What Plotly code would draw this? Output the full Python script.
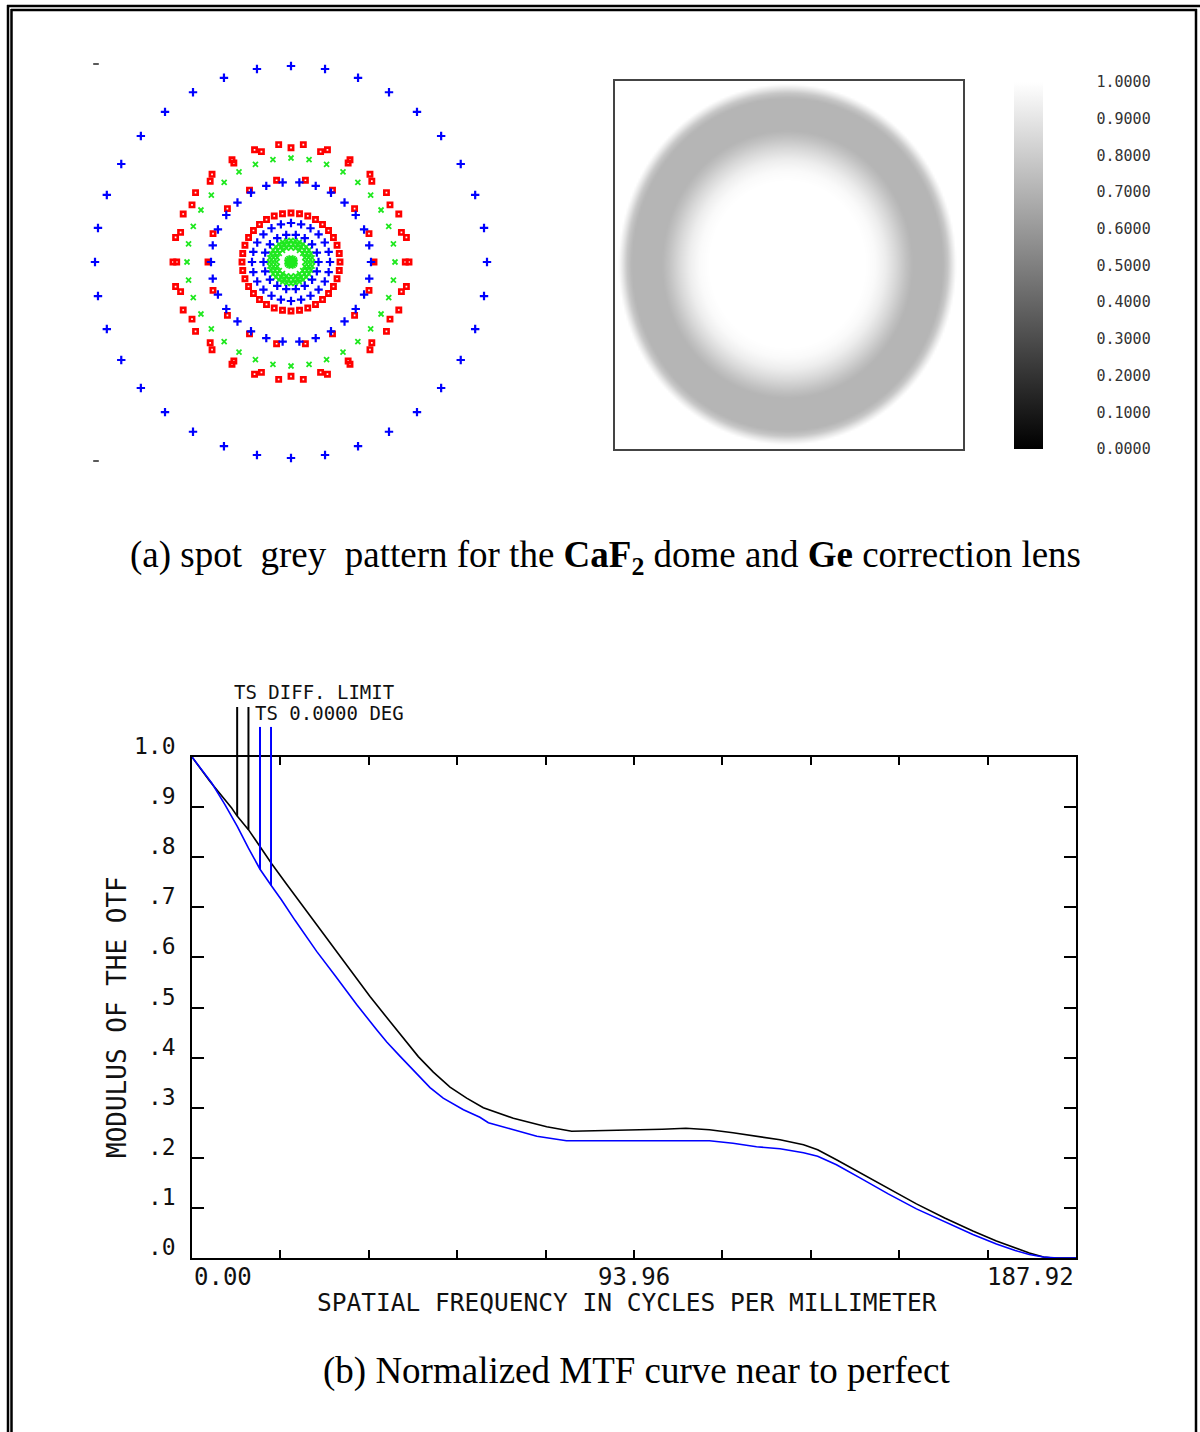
import numpy as np
import plotly.graph_objects as go

W, H = 1200, 1432


def fx(px):
    """Horizontal page pixel -> paper fraction."""
    return px / W


def fy(py):
    """Vertical page pixel (from top) -> paper fraction."""
    return 1 - py / H


# ---------------- (a) spot diagram: ray rings (radius, rays per ring) ----------------
BLUE_RING_RADII = [196.0, 80.0, 39.0, 27.5]
BLUE_RING_COUNTS = [36, 30, 24, 18]
RED_RING_RADII = [118.0, 114.3, 83.0, 49.0]
RED_RING_COUNTS = [30, 24, 18, 36]
GREEN_RING_RADII = [104.0, 21.5, 18.0, 14.5, 4.0, 2.0, 0.0]
GREEN_RING_COUNTS = [36, 32, 26, 20, 12, 6, 1]
CORNER_MARKS_X = [-195.0, -195.0]
CORNER_MARKS_Y = [198.0, -199.0]

# ---------------- (a) grey pattern: radial intensity profile ----------------
GREY_RHO = [0.0, 0.46, 0.52, 0.58, 0.64, 0.70, 0.74, 0.92, 0.95, 0.975, 1.0, 1.5]
GREY_LEVEL = [1.0, 1.0, 0.98, 0.93, 0.85, 0.76, 0.71, 0.71, 0.78, 0.90, 1.0, 1.0]
COLORBAR_TICKS = [0.0, 0.1, 0.2, 0.3, 0.4, 0.5, 0.6, 0.7, 0.8, 0.9, 1.0]
COLORBAR_LABELS = ["0.0000", "0.1000", "0.2000", "0.3000", "0.4000", "0.5000",
                   "0.6000", "0.7000", "0.8000", "0.9000", "1.0000"]

# ---------------- (b) MTF curves ----------------
DIFF_FREQ = [0, 3.83, 8.43, 9.6, 12.0, 16.94, 20.12, 23.31, 26.15, 29.34, 31.46, 34.3,
             37.84, 42.09, 44.22, 48.11, 51.3, 54.85, 58.39, 61.93, 68.31, 75.4, 80.71,
             94.0, 100, 105, 110, 115, 120, 125, 130, 133, 137, 142, 148, 154, 160,
             166, 171, 175, 178, 181, 183, 187.92]
DIFF_MTF = [1.0, 0.951, 0.898, 0.882, 0.855, 0.787, 0.746, 0.706, 0.668, 0.629, 0.602, 0.567,
            0.522, 0.472, 0.447, 0.402, 0.371, 0.341, 0.319, 0.300, 0.279, 0.262, 0.253,
            0.255, 0.257, 0.259, 0.256, 0.250, 0.243, 0.236, 0.226, 0.216, 0.196, 0.170,
            0.138, 0.108, 0.080, 0.054, 0.034, 0.020, 0.010, 0.002, 0.0, 0.0]
REAL_FREQ = [0, 2.0, 4.2, 7.0, 9.6, 12.0, 14.46, 16.8, 19.0, 21.9, 24.4, 26.5, 30.4, 32.2,
             35.0, 39.3, 41.4, 44.2, 48.1, 50.6, 53.4, 57.7, 61.2, 63.0, 67.6, 73.3, 79.6,
             94.0, 110, 115, 120, 125, 130, 133, 137, 142, 148, 154, 160, 166, 171, 175,
             178, 181, 184, 187.92]
REAL_MTF = [1.0, 0.976, 0.948, 0.905, 0.862, 0.818, 0.776, 0.744, 0.715, 0.674, 0.640, 0.612,
            0.564, 0.541, 0.506, 0.455, 0.431, 0.403, 0.364, 0.340, 0.319, 0.296, 0.281,
            0.270, 0.258, 0.243, 0.234, 0.234, 0.234, 0.229, 0.222, 0.218, 0.210, 0.203,
            0.186, 0.160, 0.128, 0.098, 0.072, 0.047, 0.028, 0.015, 0.007, 0.002, 0.0, 0.0]

# legend leader lines (T and S) dropping onto each curve
DIFF_LEADER_FREQ = [9.6, 12.0]
DIFF_LEADER_MTF = [0.882, 0.855]
REAL_LEADER_FREQ = [14.46, 16.8]
REAL_LEADER_MTF = [0.776, 0.744]

FREQ_MAX = 187.92
X_TICKS = [0, 18.792, 37.584, 56.376, 75.168, 93.96, 112.752, 131.544, 150.336, 169.128, 187.92]
X_LABEL_VALUES = [0.0, 93.96, 187.92]
X_LABEL_TEXT = ["0.00", "93.96", "187.92"]
X_LABEL_ANCHOR = ["left", "center", "right"]
Y_TICKS = [0.0, 0.1, 0.2, 0.3, 0.4, 0.5, 0.6, 0.7, 0.8, 0.9, 1.0]
Y_LABEL_TEXT = [".0", ".1", ".2", ".3", ".4", ".5", ".6", ".7", ".8", ".9", "1.0"]

MONO = "DejaVu Sans Mono"
SERIF = "Liberation Serif"
BLUE = "#0000ff"
RED = "#ff0000"
GREEN = "#1ee81e"


def ring_points(radii, counts):
    xs, ys = [], []
    for r, n in zip(radii, counts):
        ang = np.deg2rad(np.arange(n) * 360.0 / n)
        xs.extend(r * np.cos(ang))
        ys.extend(r * np.sin(ang))
    return xs, ys


fig = go.Figure()

# ---- spot diagram ----
SPOT_CX, SPOT_CY, SPOT_HALF = 291, 262, 215
bx, by = ring_points(BLUE_RING_RADII, BLUE_RING_COUNTS)
rx, ry = ring_points(RED_RING_RADII, RED_RING_COUNTS)
gx, gy = ring_points(GREEN_RING_RADII, GREEN_RING_COUNTS)
fig.add_trace(go.Scatter(x=rx, y=ry, mode="markers", xaxis="x", yaxis="y",
                         marker=dict(symbol="square-open", size=4.3, color=RED,
                                     line=dict(color=RED, width=2.6))))
fig.add_trace(go.Scatter(x=gx, y=gy, mode="markers", xaxis="x", yaxis="y",
                         marker=dict(symbol="x-thin", size=5, color=GREEN,
                                     line=dict(color=GREEN, width=1.8))))
fig.add_trace(go.Scatter(x=bx, y=by, mode="markers", xaxis="x", yaxis="y",
                         marker=dict(symbol="cross-thin", size=6, color=BLUE,
                                     line=dict(color=BLUE, width=2.2))))
fig.add_trace(go.Scatter(x=CORNER_MARKS_X, y=CORNER_MARKS_Y, mode="markers", xaxis="x", yaxis="y",
                         marker=dict(symbol="line-ew", size=4, color="#222",
                                     line=dict(color="#222", width=1.5))))

# ---- grey pattern ----
BOX_L, BOX_R, BOX_T, BOX_B = 615, 963, 81, 449
box_w, box_h = BOX_R - BOX_L, BOX_B - BOX_T
ELL_CX, ELL_CY = 787 - BOX_L, BOX_B - 264
ELL_AX, ELL_AY = 169.0, 180.5
gxs = np.arange(0, box_w + 1, 2.0)
gys = np.arange(0, box_h + 1, 2.0)
GX, GY = np.meshgrid(gxs, gys)
rho = np.sqrt(((GX - ELL_CX) / ELL_AX) ** 2 + ((GY - ELL_CY) / ELL_AY) ** 2)
grey = np.interp(rho, GREY_RHO, GREY_LEVEL)

fig.add_trace(go.Heatmap(
    x=gxs, y=gys, z=grey, xaxis="x2", yaxis="y2", zmin=0, zmax=1, zsmooth="best",
    colorscale=[[0, "#000000"], [1, "#ffffff"]], hoverinfo="skip",
    colorbar=dict(
        x=fx(1014), xanchor="left", xpad=0, y=fy(449), yanchor="bottom", ypad=0,
        len=367, lenmode="pixels", thickness=29, thicknessmode="pixels",
        outlinewidth=0, tickmode="array", tickvals=COLORBAR_TICKS, ticktext=COLORBAR_LABELS,
        ticks="outside", ticklen=51, tickcolor="rgba(0,0,0,0)",
        tickfont=dict(family=MONO, size=15, color="#333333"),
    ),
))

# ---- MTF ----
MTF_L, MTF_R, MTF_T, MTF_B = 192, 1076, 757, 1258
mtf_h = MTF_B - MTF_T
LEADER_TOP = 1.1
fig.add_trace(go.Scatter(x=DIFF_FREQ, y=DIFF_MTF, mode="lines", xaxis="x3", yaxis="y3",
                         line=dict(color="#000000", width=1.6)))
fig.add_trace(go.Scatter(x=REAL_FREQ, y=REAL_MTF, mode="lines", xaxis="x3", yaxis="y3",
                         line=dict(color=BLUE, width=1.6)))


def leaders(freqs, vals, top):
    xs, ys = [], []
    for f, v in zip(freqs, vals):
        xs += [f, f, None]
        ys += [top, v, None]
    return xs, ys


lx, ly = leaders(DIFF_LEADER_FREQ, DIFF_LEADER_MTF, LEADER_TOP)
fig.add_trace(go.Scatter(x=lx, y=ly, mode="lines", xaxis="x3", yaxis="y4",
                         line=dict(color="#000000", width=2)))
lx, ly = leaders(REAL_LEADER_FREQ, REAL_LEADER_MTF, 1.06)
fig.add_trace(go.Scatter(x=lx, y=ly, mode="lines", xaxis="x3", yaxis="y4",
                         line=dict(color=BLUE, width=2)))

hidden = dict(visible=False, showgrid=False, zeroline=False)
fig.update_layout(
    width=W, height=H, margin=dict(l=0, r=0, t=0, b=0),
    paper_bgcolor="white", plot_bgcolor="rgba(0,0,0,0)", showlegend=False,
    xaxis=dict(domain=[fx(SPOT_CX - SPOT_HALF), fx(SPOT_CX + SPOT_HALF)],
               range=[-SPOT_HALF, SPOT_HALF], anchor="y", **hidden),
    yaxis=dict(domain=[fy(SPOT_CY + SPOT_HALF), fy(SPOT_CY - SPOT_HALF)],
               range=[-SPOT_HALF, SPOT_HALF], anchor="x", **hidden),
    xaxis2=dict(domain=[fx(BOX_L), fx(BOX_R)], range=[0, box_w], anchor="y2",
                showline=True, mirror=True, linecolor="#444444", linewidth=1.5,
                showticklabels=False, ticks="", showgrid=False, zeroline=False),
    yaxis2=dict(domain=[fy(BOX_B), fy(BOX_T)], range=[0, box_h], anchor="x2",
                showline=True, mirror=True, linecolor="#444444", linewidth=1.5,
                showticklabels=False, ticks="", showgrid=False, zeroline=False),
    xaxis3=dict(domain=[fx(MTF_L), fx(MTF_R)], range=[0, FREQ_MAX], anchor="y3",
                showline=True, mirror="ticks", linecolor="#000", linewidth=2,
                ticks="inside", ticklen=8, tickwidth=2, tickcolor="#000",
                tickmode="array", tickvals=X_TICKS, showticklabels=False,
                showgrid=False, zeroline=False),
    yaxis3=dict(domain=[fy(MTF_B), fy(MTF_T)], range=[0, 1], anchor="x3",
                showline=True, mirror="ticks", linecolor="#000", linewidth=2,
                ticks="inside", ticklen=12, tickwidth=2, tickcolor="#000",
                tickmode="array", tickvals=Y_TICKS, showticklabels=False,
                showgrid=False, zeroline=False),
    yaxis4=dict(domain=[fy(MTF_B), fy(MTF_B - LEADER_TOP * mtf_h)], range=[0, LEADER_TOP],
                anchor="x3", **hidden),
)

ann = []
for v, t, a in zip(X_LABEL_VALUES, X_LABEL_TEXT, X_LABEL_ANCHOR):
    ann.append(dict(x=v, y=0, xref="x3", yref="y3", text=t, showarrow=False,
                    xanchor=a, yanchor="middle", yshift=-19,
                    font=dict(family=MONO, size=24, color="#111")))
for v, t in zip(Y_TICKS, Y_LABEL_TEXT):
    ann.append(dict(x=0, y=v, xref="x3", yref="y3", text=t, showarrow=False,
                    xanchor="right", yanchor="middle", xshift=-14, yshift=11,
                    font=dict(family=MONO, size=23, color="#111")))
ann += [
    dict(x=fx(627), y=fy(1302), xref="paper", yref="paper", showarrow=False,
         text="SPATIAL FREQUENCY IN CYCLES PER MILLIMETER", xanchor="center", yanchor="middle",
         font=dict(family=MONO, size=24.5, color="#111")),
    dict(x=fx(117), y=fy(1017), xref="paper", yref="paper", showarrow=False, textangle=-90,
         text="MODULUS OF THE OTF", xanchor="center", yanchor="middle",
         font=dict(family=MONO, size=26, color="#111")),
    dict(x=fx(232), y=fy(692), xref="paper", yref="paper", showarrow=False,
         text="TS DIFF. LIMIT", xanchor="left", yanchor="middle",
         font=dict(family=MONO, size=19, color="#111")),
    dict(x=fx(253), y=fy(713), xref="paper", yref="paper", showarrow=False,
         text="TS 0.0000 DEG", xanchor="left", yanchor="middle",
         font=dict(family=MONO, size=19, color="#111")),
    dict(x=fx(605), y=fy(557), xref="paper", yref="paper", showarrow=False,
         text="(a) spot\u00a0 grey\u00a0 pattern for the <b>CaF<sub>2</sub></b> dome and "
              "<b>Ge</b> correction lens",
         xanchor="center", yanchor="middle", font=dict(family=SERIF, size=37, color="#000")),
    dict(x=fx(636), y=fy(1371), xref="paper", yref="paper", showarrow=False,
         text="(b) Normalized MTF curve near to perfect",
         xanchor="center", yanchor="middle", font=dict(family=SERIF, size=37, color="#000")),
]
fig.update_layout(annotations=ann)

# double page frame
frame = [
    (7, 6, W, 6), (8, 5, 8, H),
    (11, 10, 1197, 10), (11.5, 9, 11.5, H), (1196, 9, 1196, H),
]
fig.update_layout(shapes=[
    dict(type="line", xref="paper", yref="paper", x0=fx(a), y0=fy(b), x1=fx(c), y1=fy(d),
         line=dict(color="#000", width=2.5))
    for a, b, c, d in frame
])

fig.write_html("out.html")
